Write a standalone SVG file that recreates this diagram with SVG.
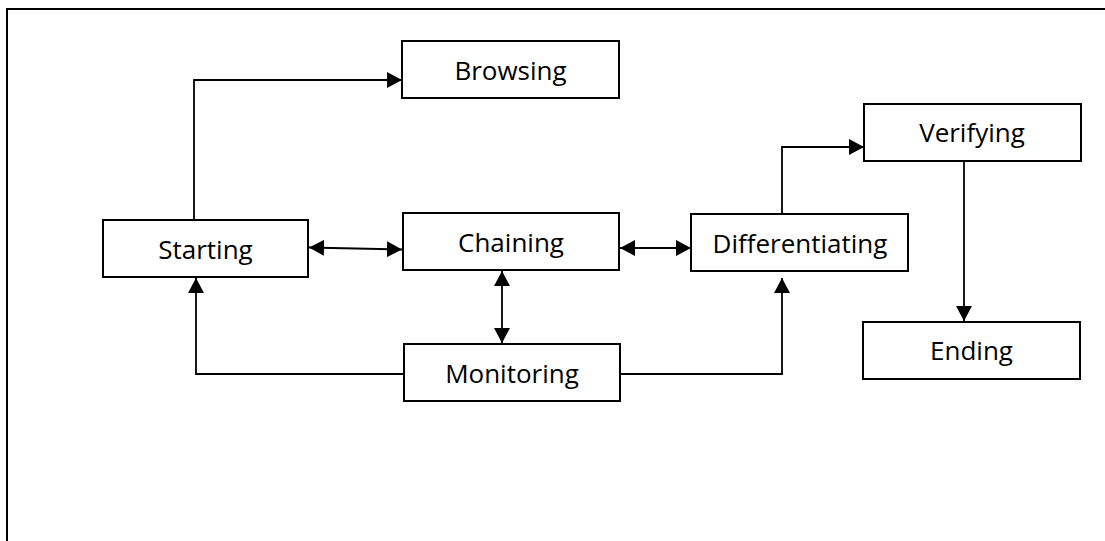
<svg xmlns="http://www.w3.org/2000/svg" width="1105" height="541" viewBox="0 0 1105 541">
<style>
.box{fill:#fff;stroke:#000;stroke-width:2}
.lbl{font-family:"Open Sans","Liberation Sans",sans-serif;font-size:26px;fill:#000;text-anchor:middle}
.c{fill:none;stroke:#000;stroke-width:1.8}
</style>
<defs>
<marker id="ah" viewBox="0 0 15 16" refX="15" refY="8" markerWidth="15" markerHeight="16" markerUnits="userSpaceOnUse" orient="auto-start-reverse">
<path d="M0,0 L15,8 L0,16 Z" fill="#000"/>
</marker>
</defs>
<rect width="1105" height="541" fill="#fff"/>
<rect x="7" y="9" width="1120" height="560" fill="none" stroke="#000" stroke-width="2"/>
<g id="connectors">
<path class="c" d="M194,220 V80 H402" marker-end="url(#ah)"/>
<path class="c" d="M309,247.5 L402,249.5" marker-start="url(#ah)" marker-end="url(#ah)"/>
<path class="c" d="M620,248 H691" marker-start="url(#ah)" marker-end="url(#ah)"/>
<path class="c" d="M502,271 V343" marker-start="url(#ah)" marker-end="url(#ah)"/>
<path class="c" d="M404,374 H196 V278" marker-end="url(#ah)"/>
<path class="c" d="M620,374 H782 V278" marker-end="url(#ah)"/>
<path class="c" d="M782,214 V147 H864" marker-end="url(#ah)"/>
<path class="c" d="M964,161 V321" marker-end="url(#ah)"/>
</g>
<g id="starting"><rect class="box" x="103" y="220" width="205" height="57"/><text class="lbl" x="205.5" y="258.5">Starting</text></g>
<g id="browsing"><rect class="box" x="402" y="41" width="217" height="57"/><text class="lbl" x="510.5" y="79.5">Browsing</text></g>
<g id="chaining"><rect class="box" x="403" y="213" width="216" height="57"/><text class="lbl" x="511" y="251.5">Chaining</text></g>
<g id="differentiating"><rect class="box" x="691" y="214" width="217" height="57"/><text class="lbl" x="800" y="252.5">Differentiating</text></g>
<g id="verifying"><rect class="box" x="864" y="104" width="217" height="57"/><text class="lbl" x="972" y="142">Verifying</text></g>
<g id="ending"><rect class="box" x="863" y="322" width="217" height="57"/><text class="lbl" x="971.5" y="359.5">Ending</text></g>
<g id="monitoring"><rect class="box" x="404" y="344" width="216" height="57"/><text class="lbl" x="512" y="382.5">Monitoring</text></g>
</svg>
